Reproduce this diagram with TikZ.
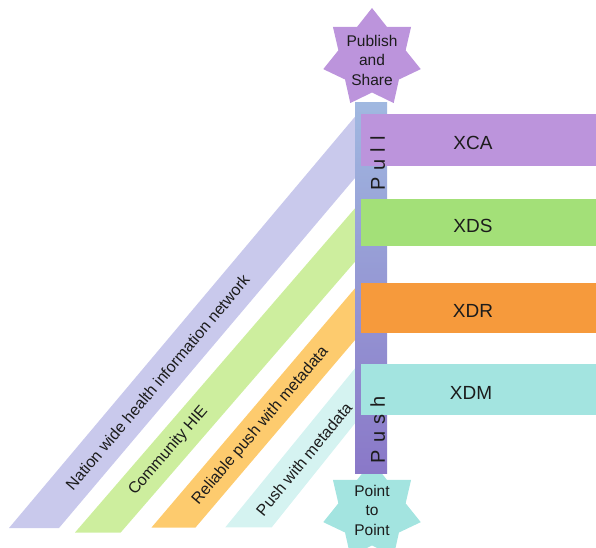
\documentclass[tikz,border=0pt]{standalone}
\usepackage{fontspec}
\setmainfont{Liberation Sans}
\usetikzlibrary{shapes.geometric}

\definecolor{bandLav}{HTML}{C9C9EC}
\definecolor{bandGreen}{HTML}{CDEE9E}
\definecolor{bandOrange}{HTML}{FDCB6E}
\definecolor{bandTeal}{HTML}{D5F3F1}
\definecolor{xcaFill}{HTML}{BC94DC}
\definecolor{xdsFill}{HTML}{A3E078}
\definecolor{xdrFill}{HTML}{F69A3C}
\definecolor{xdmFill}{HTML}{A3E4E0}
\definecolor{barTop}{HTML}{A0B8E0}
\definecolor{barBottom}{HTML}{8A78C8}
\definecolor{ink}{HTML}{1C1C1C}

\begin{document}
\begin{tikzpicture}[x=1pt,y=1pt,
  bandlabel/.style={inner sep=0pt, text=ink, font=\fontsize{16}{18}\selectfont},
  starburst/.style={star, star points=7, star point ratio=1.45, minimum size=100pt,
    inner sep=0pt, draw=none},
  starlabel/.style={inner sep=0pt, text=ink, align=center,
    font=\fontsize{15.5}{19.5}\selectfont},
  protolabel/.style={inner sep=0pt, text=ink, font=\fontsize{19}{22}\selectfont},
  modelabel/.style={inner sep=0pt, text=ink, rotate=90, font=\fontsize{20}{22}\selectfont},
  railbar/.style={rectangle, inner sep=0pt, minimum width=32pt, minimum height=370pt,
    top color=barTop, bottom color=barBottom, draw=none}]
\useasboundingbox (0,0) rectangle (596,547);

% diagonal bands running into the rail
\fill[bandLav]    (9,19)     -- (59,19)    -- (363,378.5) -- (363,439.8) -- cycle;
\fill[bandGreen]  (75,14.5)  -- (120.7,14.5) -- (363,294.5) -- (363,348) -- cycle;
\fill[bandOrange] (151.5,19.5) -- (195.5,19.5) -- (363,216.4) -- (363,268.1) -- cycle;
\fill[bandTeal]   (225.3,19.7) -- (271.7,19.7) -- (363,133.7) -- (363,188.5) -- cycle;

\node[bandlabel, rotate=49.9] (nation)    at (157.5,164.5) {Nation wide health information network};
\node[bandlabel, rotate=49.2] (community) at (168.5,96.2)  {Community HIE};
\node[bandlabel, rotate=49.6] (reliable)  at (260.5,121.2) {Reliable push with metadata};
\node[bandlabel, rotate=50.5] (pushmeta)  at (304,87.8)    {Push with metadata};

% end stars
\node[starburst, fill=xcaFill] (publish) at (372,489) {};
\node[starlabel] (publishtext) at ([yshift=-2pt]publish.center) {Publish\\and\\Share};
\node[starburst, fill=xdmFill] (p2p) at (372,36) {};
\node[starlabel] (p2ptext) at ([yshift=1pt]p2p.center) {Point\\to\\Point};

% vertical pull/push rail
\node[railbar] (rail) at (371,259) {};

% profile boxes
\fill[xcaFill] (361,381.3) rectangle (596,433);
\fill[xdsFill] (361,301.3) rectangle (596,348);
\fill[xdrFill] (361,213.7) rectangle (596,264.3);
\fill[xdmFill] (361,131.7) rectangle (596,183);

\node[protolabel] (xca) at (473,404)   {XCA};
\node[protolabel] (xds) at (473,321.5) {XDS};
\node[protolabel] (xdr) at (473,236.5) {XDR};
\node[protolabel] (xdm) at (471,154.2) {XDM};

\node[modelabel] (pull) at (377.7,383.7) {P\hspace{7pt}u\hspace{7pt}l\hspace{7pt}l};
\node[modelabel] (push) at (377.7,117)   {P\hspace{7pt}u\hspace{7pt}s\hspace{7pt}h};
\end{tikzpicture}
\end{document}
